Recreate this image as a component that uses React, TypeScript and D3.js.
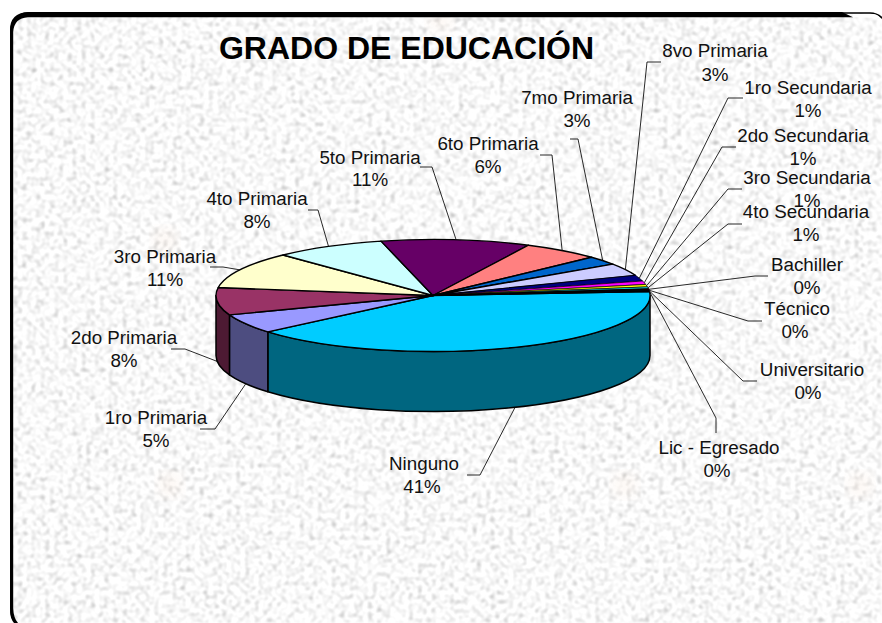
import React from "react";
import * as d3 from "d3";

// Slice order runs clockwise from the right edge of the pie.
const categories = ["Ninguno","1ro Primaria","2do Primaria","3ro Primaria","4to Primaria","5to Primaria","6to Primaria","7mo Primaria","8vo Primaria","1ro Secundaria","2do Secundaria","3ro Secundaria","4to Secundaria","Bachiller","Técnico","Universitario","Lic - Egresado"];
const shares = [39.9,5.6,7.9,10.6,8.3,11.1,5.8,2.5,3.6,1.7,1,0.7,0.55,0.3,0.2,0.15,0.15];
const percentLabels = ["41%","5%","8%","11%","8%","11%","6%","3%","3%","1%","1%","1%","1%","0%","0%","0%","0%"];
const topColors = ["#00CCFF","#9999FF","#993366","#FFFFCC","#CCFFFF","#660066","#FF8080","#0066CC","#CCCCFF","#000080","#FF00FF","#FFFF00","#00FFFF","#800080","#800000","#008080","#0000FF"];
const sideColors = ["#006680","#4D4D80","#4D1A33"];

// Label layout: text centre x, name baseline y, percent centre x, leader knee and leader tail, rim drop
const labelX = [424,156,124,165,257,370,488,577,715,808,803,807,806,807,797,812,719];
const labelY = [470,424,344,263,205,164,150,104,57,94,142,184,218,271,315,376,454];
const pctY = [493,447,367,286,228,186,173,127,81,117,165,207,241,294,338,399,477];
const pctX = [422,156,124,165,257,370,488,577,715,808,803,807,806,807,795,808,717];
const kneeX = [480,215,185,223,318,432,552,578,647,728,722,728,728,755,748,743,716];
const kneeY = [475,429,349,267,210,167,155,139,62,98,147,189,224,276,321,381,418];
const tailX = [467,200,171,210,308,420,540,570,661,743,736,742,742,768,762,757,716];
const tailY = [475,429,349,267,210,167,155,139,62,98,147,189,224,276,321,381,433];
const onSide = [true,true,true];
const specks = [[170,485],[625,485],[860,485],[165,240],[440,20]];

const W = 882, H = 623;
const cx = 433, cy = 295.5, rx = 217, ry = 56, depth = 60;
const START = (-4 * Math.PI) / 180;

const pie = d3.pie<number>().sort(null).startAngle(START).endAngle(START + 2 * Math.PI);
const arcs = pie(shares);
const px = (t: number) => cx + rx * Math.cos(t);
const py = (t: number) => cy + ry * Math.sin(t);

function topPath(a0: number, a1: number) {
  const large = a1 - a0 > Math.PI ? 1 : 0;
  return `M${cx},${cy}L${px(a0)},${py(a0)}A${rx},${ry} 0 ${large} 1 ${px(a1)},${py(a1)}Z`;
}
function sidePath(a0: number, a1: number) {
  const s = Math.max(a0, 0), e = Math.min(a1, Math.PI);
  if (e <= s) return null;
  return `M${px(s)},${py(s)}A${rx},${ry} 0 0 1 ${px(e)},${py(e)}L${px(e)},${py(e) + depth}A${rx},${ry} 0 0 0 ${px(s)},${py(s) + depth}Z`;
}

export default function App() {
  return (
    <svg width={W} height={H} viewBox={`0 0 ${W} ${H}`} style={{ position: "absolute", left: 0, top: 0, display: "block", background: "#fff" }}>
      <defs>
        <filter id="granite" x="0" y="0" width="100%" height="100%" colorInterpolationFilters="sRGB">
          <feTurbulence type="fractalNoise" baseFrequency="0.22" numOctaves={2} seed={7} result="n" />
          <feColorMatrix in="n" type="matrix" values="0.8 0.8 0 0 0.1  0.8 0.8 0 0 0.1  0.8 0.8 0 0 0.1  0 0 0 0 1" />
          <feGaussianBlur stdDeviation="0.8" />
          <feComponentTransfer>
            <feFuncR type="linear" slope="0.5" intercept="0.53" />
            <feFuncG type="linear" slope="0.5" intercept="0.53" />
            <feFuncB type="linear" slope="0.5" intercept="0.53" />
          </feComponentTransfer>
        </filter>
        <filter id="speck"><feGaussianBlur stdDeviation="7" /></filter>
        <clipPath id="panel"><rect x={11} y={13} width={876} height={616} rx={17} /></clipPath>
      </defs>

      <g clipPath="url(#panel)">
        <rect x={0} y={0} width={W} height={H} fill="#f0f0f0" filter="url(#granite)" />
        {specks.map(([x, y], i) => (
          <circle key={i} cx={x} cy={y} r={13} fill="#f5d9c4" opacity={0.18} filter="url(#speck)" />
        ))}
      </g>
      <rect x={11} y={13} width={876} height={616} rx={17} fill="none" stroke="#000" strokeWidth={1.6} />
      <path d="M10,30 Q10,13 28,12 L842,12 L853,17.2 L28,17.2 Q14,18 13.2,32 L13.2,608 Q13.5,618 18,623 L15,623 Q10,618 10,608 Z" fill="#000" />
      <path d="M853,14 L872,14 Q878,14 880,18 L853,17.2 Z" fill="#fff" />

      {arcs.map((a, i) => {
        const d = sidePath(a.startAngle, a.endAngle);
        return d ? <path key={i} d={d} fill={sideColors[i]} stroke="#000" strokeWidth={1.5} strokeLinejoin="round" /> : null;
      })}
      {arcs.map((a, i) => (
        <path key={i} d={topPath(a.startAngle, a.endAngle)} fill={topColors[i]} stroke="#000" strokeWidth={i >= 13 ? 1.2 : i >= 9 ? 0.7 : 1.4} strokeLinejoin="round" />
      ))}

      {arcs.map((a, i) => {
        const mid = (a.startAngle + a.endAngle) / 2;
        const drop = onSide[i] ? depth : 0;
        const pts: [number, number][] = [[tailX[i], tailY[i]], [kneeX[i], kneeY[i]], [px(mid), py(mid) + drop]];
        return <path key={i} d={d3.line()(pts) ?? ""} fill="none" stroke="#111" strokeWidth={0.9} />;
      })}

      <g fontFamily="'Liberation Sans', Arial, sans-serif" fontSize={18.8} fill="#111" textAnchor="middle">
        {categories.map((c, i) => (
          <g key={c}>
            <text x={labelX[i]} y={labelY[i]}>{c}</text>
            <text x={pctX[i]} y={pctY[i]}>{percentLabels[i]}</text>
          </g>
        ))}
      </g>
      <text x={406.5} y={59} textAnchor="middle" fontFamily="'Liberation Sans', Arial, sans-serif" fontWeight="bold" fontSize={32} fill="#000">GRADO DE EDUCACIÓN</text>
    </svg>
  );
}
